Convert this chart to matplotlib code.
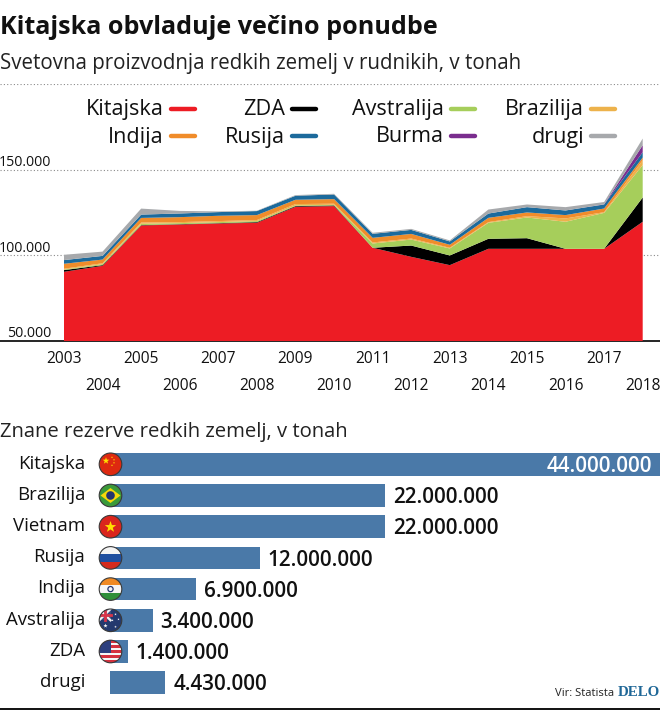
import numpy as np
import matplotlib
matplotlib.use("Agg")
import matplotlib.pyplot as plt
from matplotlib.patches import Circle, Polygon, Rectangle
from matplotlib.lines import Line2D

years = list(range(2003, 2019))
kitajska = [90450, 93950, 117550, 118100, 118700, 119100, 128450, 128850, 104500, 99200, 94350, 103900, 103900, 103900, 103900, 119700]
zda = [1000, 400, 200, 200, 200, 400, 400, 400, 0, 6600, 5650, 5850, 6200, 0, 0, 14200]
avstralija = [300, 600, 800, 600, 600, 600, 400, 400, 2500, 3500, 4100, 9350, 12100, 15800, 21000, 18900]
brazilija = [500, 500, 700, 600, 600, 600, 800, 600, 600, 600, 400, 400, 800, 1950, 400, 2900]
indija = [2900, 2150, 2700, 2900, 3100, 2900, 2500, 2700, 2700, 2700, 1750, 2500, 2150, 1950, 2150, 1550]
rusija = [2150, 2150, 1950, 2150, 2150, 2350, 2350, 2700, 2350, 2350, 1950, 2500, 3100, 2700, 2350, 3100]
burma = [0, 0, 0, 0, 0, 0, 0, 0, 0, 0, 0, 0, 0, 0, 100, 4100]
drugi = [3100, 2500, 3500, 1500, 400, 200, 400, 400, 600, 600, 600, 2350, 1550, 1950, 1350, 3900]
y_ticks = [100000, 150000, 200000]
y_tick_labels = ["100.000", "150.000"]

res_names = ["Kitajska", "Brazilija", "Vietnam", "Rusija", "Indija", "Avstralija", "ZDA", "drugi"]
res_values = [44000000, 22000000, 22000000, 12000000, 6900000, 3400000, 1400000, 4430000]
res_labels = ["44.000.000", "22.000.000", "22.000.000", "12.000.000", "6.900.000", "3.400.000", "1.400.000", "4.430.000"]

C = dict(red="#ed1c24", black="#000000", green="#a6ce5b", yellow="#edb24b",
         orange="#f08c2a", blue="#1c6a9c", purple="#7a2d8e", gray="#a7a9ac", bar="#4a79a8")
FONT = "Open Sans"
W, H = 660, 710
fig = plt.figure(figsize=(6.6, 7.1), dpi=100, facecolor="white")

def rect(l, t, r, b):
    return [l / W, 1 - b / H, (r - l) / W, (b - t) / H]

# ---- area chart
ax = fig.add_axes(rect(0, 84.4, 660, 341), zorder=1)
step = (642.7 - 64) / 15
ax.set_xlim(2003 - 64 / step, 2003 + (660 - 64) / step)
ax.set_ylim(50000, 200000)
ax.stackplot(years, kitajska, zda, avstralija, brazilija, indija, rusija, burma, drugi,
             colors=[C["red"], C["black"], C["green"], C["yellow"], C["orange"], C["blue"], C["purple"], C["gray"]],
             linewidth=0, zorder=3)
ax.set_yticks(y_ticks)
ax.tick_params(axis="y", length=0, labelleft=False)
ax.yaxis.grid(True, color="#8a8a8a", lw=0.8, ls=(0, (1, 2)), zorder=1)
ax.set_axisbelow(True)
for s in ["top", "left", "right"]:
    ax.spines[s].set_visible(False)
ax.spines["bottom"].set_color("black")
ax.spines["bottom"].set_linewidth(1.2)
ax.set_xticks(years)
ax.set_xticklabels([str(y) for y in years], fontsize=11.2, family=FONT, color="#111111")
ax.tick_params(axis="x", length=0)
for i, t in enumerate(ax.xaxis.get_major_ticks()):
    t.set_pad(7 if i % 2 == 0 else 26.5)

# ---- reserves bars
bx = fig.add_axes(rect(0, 464.3 - 15.6, 660, 682.7 + 15.6), zorder=1)
bx.set_xlim(-110 / 12.5 * 1e6, 44e6)
bx.set_ylim(7.5, -0.5)
bx.barh(range(len(res_values)), res_values, height=0.72, color=C["bar"], linewidth=0)
bx.axis("off")
for i, (v, lab) in enumerate(zip(res_values, res_labels)):
    if i == 0:
        bx.text(v - 0.62e6, i + 0.07, lab, color="white", ha="right", va="center", fontsize=14.9, family=FONT, weight="semibold")
    else:
        bx.text(v + 0.62e6, i + 0.07, lab, color="#111111", ha="left", va="center", fontsize=14.9, family=FONT, weight="semibold")
    bx.text(-2e6, i - 0.02, res_names[i], color="#111111", ha="right", va="center", fontsize=13.4, family=FONT)

# ---- overlay in pixel units: texts, legend, flags
ov = fig.add_axes([0, 0, 1, 1], zorder=5)
ov.set_xlim(0, W)
ov.set_ylim(H, 0)
ov.axis("off")
ov.patch.set_alpha(0)

ov.text(0, 28, "Kitajska obvladuje večino ponudbe", fontsize=18.1, weight="bold", family=FONT, va="center", color="#111111")
ov.text(0, 63.5, "Svetovna proizvodnja redkih zemelj v rudnikih, v tonah", fontsize=14.8, family=FONT, va="center", color="#222222")
ov.text(0, 431.5, "Znane rezerve redkih zemelj, v tonah", fontsize=14.6, family=FONT, va="center", color="#222222")
ov.text(51, 162.5, y_tick_labels[1], fontsize=10.2, family=FONT, ha="right", va="center", color="#111111")
ov.text(51, 248, y_tick_labels[0], fontsize=10.2, family=FONT, ha="right", va="center", color="#111111")
ov.text(51, 333.5, "50.000", fontsize=10.2, family=FONT, ha="right", va="center", color="#111111", zorder=6)

legend = [("Kitajska", C["red"], 164, 109.5), ("ZDA", C["black"], 285, 109.5), ("Avstralija", C["green"], 444, 109.5), ("Brazilija", C["yellow"], 584, 109.5),
          ("Indija", C["orange"], 164, 137), ("Rusija", C["blue"], 285, 137), ("Burma", C["purple"], 444, 137), ("drugi", C["gray"], 584, 137)]
for name, col, x, y in legend:
    ov.text(x, y, name, fontsize=15.6, family=FONT, ha="right", va="center", color="#111111")
    ov.add_line(Line2D([x + 7, x + 31], [y - 1, y - 1], color=col, lw=3.2, solid_capstyle="round"))

ov.text(555, 693, "Vir: Statista", fontsize=8.1, family=FONT, va="center", color="#222222")
ov.text(660, 692.5, "DELO", fontsize=10.8, family="Liberation Serif", weight="bold", ha="right", va="center", color="#1f6797")
ov.add_line(Line2D([0, 660], [708.5, 708.5], color="#111111", lw=1.4))

def star(cx, cy, r, col):
    a = np.deg2rad(np.arange(10) * 36 - 90)
    rr = np.where(np.arange(10) % 2 == 0, r, r * 0.4)
    ov.add_patch(Polygon(np.c_[cx + rr * np.cos(a), cy + rr * np.sin(a)], fc=col, lw=0, zorder=7))

def flag(cy, kind, cx=110.5, R=11.3):
    clip = Circle((cx, cy), R, transform=ov.transData)
    def box(x0, y0, x1, y1, col):
        p = Rectangle((cx + x0, cy + y0), x1 - x0, y1 - y0, fc=col, lw=0, zorder=6)
        ov.add_patch(p); p.set_clip_path(clip)
    if kind == "cn":
        box(-R, -R, R, R, "#de2910"); star(cx - 4.5, cy - 3.5, 3.6, "#ffde00")
        for dx, dy in [(1.5, -7), (3.5, -4.5), (3.5, -1.5), (1.5, 1)]:
            star(cx + dx, cy + dy, 1.1, "#ffde00")
    elif kind == "br":
        box(-R, -R, R, R, "#3a9a3a")
        ov.add_patch(Polygon([(cx - 10, cy), (cx, cy - 7.5), (cx + 10, cy), (cx, cy + 7.5)], fc="#f5d90a", lw=0, zorder=7))
        ov.add_patch(Circle((cx, cy), 4.3, fc="#24356f", lw=0, zorder=8))
    elif kind == "vn":
        box(-R, -R, R, R, "#da251d"); star(cx, cy + 0.3, 6, "#ffe000")
    elif kind == "ru":
        box(-R, -R, R, -3.7, "#f4f4f4"); box(-R, -3.7, R, 3.7, "#1f4fa0"); box(-R, 3.7, R, R, "#d52b1e")
    elif kind == "in":
        box(-R, -R, R, -3.7, "#f08a24"); box(-R, -3.7, R, 3.7, "#f6f6f6"); box(-R, 3.7, R, R, "#2f8f3a")
        ov.add_patch(Circle((cx, cy), 2.6, fc="none", ec="#24356f", lw=0.9, zorder=8))
    elif kind == "au":
        box(-R, -R, R, R, "#23396e"); box(-R, -R, 0, 0, "#3c4f80")
        for pts, col, w in [(([cx - R, cx], [cy - R, cy]), "#f3f3f3", 1.6), (([cx - R, cx], [cy, cy - R]), "#f3f3f3", 1.6),
                            (([cx - R, cx], [cy - 5.5, cy - 5.5]), "#d8354a", 2), (([cx - 5.5, cx - 5.5], [cy - R, cy]), "#d8354a", 2)]:
            l = Line2D(*pts, color=col, lw=w, zorder=7); ov.add_line(l); l.set_clip_path(clip)
        for dx, dy, r in [(-5, 5.5, 2.2), (5, -6, 1.3), (5, 6.5, 1.3), (8, -1, 1.2), (2, 0, 1.2)]:
            star(cx + dx, cy + dy, r, "#f4f4f4")
    elif kind == "us":
        n = 9
        h = 2 * R / n
        for i in range(n):
            box(-R, -R + i * h, R, -R + (i + 1) * h, "#d5303e" if i % 2 == 0 else "#f6f6f6")
        box(-R, -R, 0.5, -R + 5 * h, "#2d3f7e")
    ov.add_patch(Circle((cx, cy), R, fc="none", ec="#3a3a3a", lw=0.8, zorder=9))

rows = [464.3 + 31.2 * i for i in range(7)]
for cy, k in zip(rows, ["cn", "br", "vn", "ru", "in", "au", "us"]):
    flag(cy, k)

fig.savefig("out.png", dpi=100, facecolor="white")
